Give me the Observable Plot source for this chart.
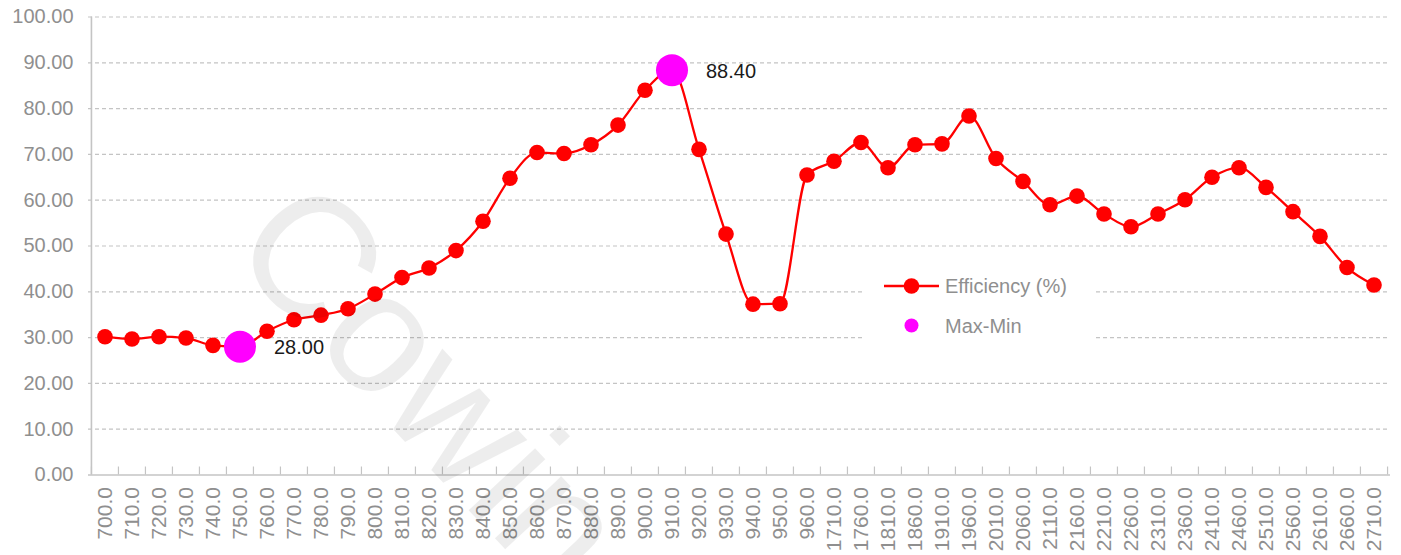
<!DOCTYPE html>
<html>
<head>
<meta charset="utf-8">
<script src="https://cdn.jsdelivr.net/npm/d3@7"></script>
<script src="https://cdn.jsdelivr.net/npm/@observablehq/plot@0.6"></script>
<style>
  body { margin: 0; background: #fff; }
  #chart { position: relative; width: 1401px; height: 555px; overflow: hidden; }
</style>
</head>
<body>
<div id="chart"></div>
<script>
// ---- data ----
const categories = [
  "700.0","710.0","720.0","730.0","740.0","750.0","760.0","770.0","780.0","790.0",
  "800.0","810.0","820.0","830.0","840.0","850.0","860.0","870.0","880.0","890.0",
  "900.0","910.0","920.0","930.0","940.0","950.0","960.0",
  "1710.0","1760.0","1810.0","1860.0","1910.0","1960.0","2010.0","2060.0","2110.0",
  "2160.0","2210.0","2260.0","2310.0","2360.0","2410.0","2460.0","2510.0","2560.0",
  "2610.0","2660.0","2710.0"
];
const efficiency = [
  30.2, 29.7, 30.2, 29.9, 28.3, 28.0, 31.4, 33.9, 34.9, 36.3,
  39.5, 43.1, 45.2, 49.0, 55.4, 64.8, 70.4, 70.2, 72.1, 76.4,
  84.0, 88.4, 71.1, 52.6, 37.3, 37.4, 65.5,
  68.5, 72.6, 67.1, 72.1, 72.3, 78.4, 69.1, 64.1, 59.0,
  60.9, 57.0, 54.2, 57.0, 60.1, 65.0, 67.1, 62.8, 57.5,
  52.1, 45.3, 41.5
];
const yTicks = [0, 10, 20, 30, 40, 50, 60, 70, 80, 90, 100];
const seriesName = "Efficiency (%)";
const markerName = "Max-Min";
const watermarkText = "Cowin";

// ---- build ----
const data = categories.map((c, i) => ({category: c, value: efficiency[i]}));
const maxV = d3.max(efficiency), minV = d3.min(efficiency);
const extremes = data.filter(d => d.value === maxV || d.value === minV);

const W = 1401, H = 555, mL = 88, mR = 11, mT = 16.5, mB = 80.5;
const plotH = H - mT - mB;
const band = (W - mL - mR) / categories.length;
const grey = "#c4c4c4", textGrey = "#8f8f8f";
const red = "#ff0000", magenta = "#ff00ff";
const font = "'Liberation Sans', Arial, sans-serif";

const plot = Plot.plot({
  width: W, height: H,
  marginLeft: mL, marginRight: mR, marginTop: mT, marginBottom: mB,
  style: {fontFamily: font, background: "#fff"},
  x: {type: "band", domain: categories, padding: 0, label: null},
  y: {domain: [0, 100], label: null},
  marks: [
    Plot.ruleY(yTicks.filter(t => t > 0), {stroke: grey, strokeDasharray: "4,3", strokeWidth: 1.2}),
    Plot.ruleY([0], {stroke: grey, strokeWidth: 1.6}),
    Plot.ruleX([categories[0]], {dx: -band / 2, stroke: grey, strokeWidth: 1.6}),
    Plot.ruleX(categories, {dx: -band / 2, insetTop: plotH - 8, stroke: grey, strokeWidth: 1.2}),
    Plot.ruleX([categories[categories.length - 1]], {dx: band / 2, insetTop: plotH - 8, stroke: grey, strokeWidth: 1.2}),
    Plot.axisY({ticks: yTicks, tickSize: 0, tickPadding: 15, tickFormat: d => d.toFixed(2),
                fontSize: 20, color: textGrey, label: null}),
    Plot.axisX({tickSize: 0, tickRotate: -90, tickPadding: 12, fontSize: 21, color: textGrey, label: null}),
    Plot.line(data, {x: "category", y: "value", stroke: red, strokeWidth: 2.3, curve: "monotone-x"}),
    Plot.dot(data, {x: "category", y: "value", r: 7.8, fill: red}),
    Plot.dot(extremes, {x: "category", y: "value", r: 16, fill: magenta}),
    Plot.text(extremes, {x: "category", y: "value", text: d => d.value.toFixed(2),
                         dx: 34, dy: 1, textAnchor: "start", fontSize: 20, fill: "#1a1a1a"})
  ]
});

// legend inside plot area
const svg = d3.select(plot);
const lg = svg.append("g").attr("font-family", font).attr("font-size", 20).attr("text-anchor", "start");
lg.append("rect").attr("x", 865).attr("y", 266).attr("width", 230).attr("height", 78).attr("fill", "#fff");
lg.append("line").attr("x1", 884).attr("x2", 939).attr("y1", 286).attr("y2", 286)
  .attr("stroke", red).attr("stroke-width", 2.3);
lg.append("circle").attr("cx", 911.5).attr("cy", 286).attr("r", 7.8).attr("fill", red);
lg.append("text").attr("x", 945).attr("y", 286).attr("dy", "0.35em").attr("fill", textGrey).text(seriesName);
lg.append("circle").attr("cx", 911.5).attr("cy", 325.5).attr("r", 7).attr("fill", magenta);
lg.append("text").attr("x", 945).attr("y", 325.5).attr("dy", "0.35em").attr("fill", textGrey).text(markerName);

// faint watermark
svg.append("text")
  .attr("transform", "translate(226,250) rotate(47)")
  .attr("text-anchor", "start")
  .attr("font-family", font).attr("font-size", 172)
  .attr("fill", "#000").attr("fill-opacity", 0.07)
  .text(watermarkText);

document.getElementById("chart").appendChild(plot);
</script>
</body>
</html>
